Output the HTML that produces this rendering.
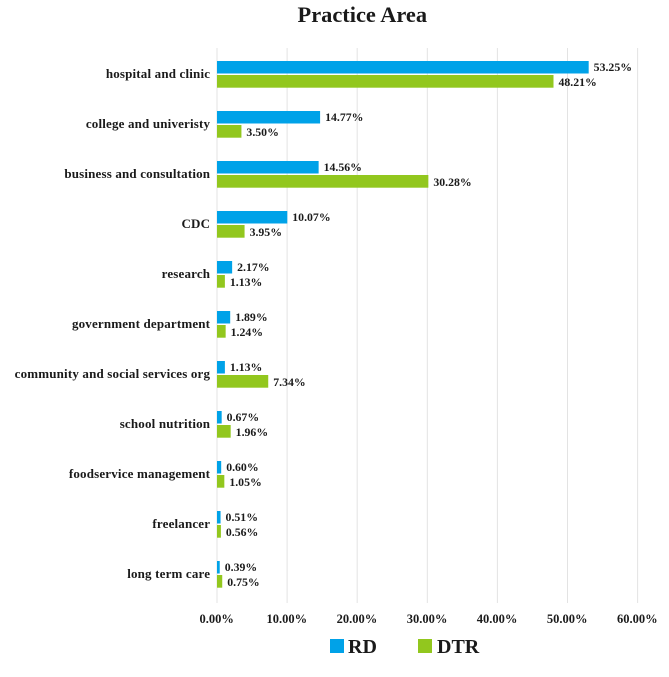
<!DOCTYPE html>
<html>
<head>
<meta charset="utf-8">
<style>
html,body{margin:0;padding:0;background:#fff}
svg{display:block}
text{font-family:"Liberation Serif",serif;font-weight:bold;fill:#1a1a1a}
</style>
</head>
<body>
<svg id="chart" width="669" height="677" viewBox="0 0 669 677" xmlns="http://www.w3.org/2000/svg"></svg>
<script>
const categories = ["hospital and clinic","college and univeristy","business and consultation","CDC","research","government department","community and social services org","school nutrition","foodservice management","freelancer","long term care"];
const rdValues = [53.25,14.77,14.56,10.07,2.17,1.89,1.13,0.67,0.60,0.51,0.39];
const dtrValues = [48.21,3.50,30.28,3.95,1.13,1.24,7.34,1.96,1.05,0.56,0.75];
const xTicks = [0,10,20,30,40,50,60];
const chartTitle = "Practice Area";
const rdName = "RD";
const dtrName = "DTR";

const svg = document.getElementById('chart');
const NS = 'http://www.w3.org/2000/svg';
const RD_COLOR = '#00a2e8';
const DTR_COLOR = '#92c71e';
const xScale = v => 217 + v * 7.01;
const barEnd = v => 217 + v * 6.98;
const yScale = i => 74 + i * 50;

function make(tag, attrs, txt) {
  const el = document.createElementNS(NS, tag);
  for (const k in attrs) el.setAttribute(k, attrs[k]);
  if (txt !== undefined) el.textContent = txt;
  svg.appendChild(el);
  return el;
}

const title = make('text', {x: 362.3, y: 22, 'text-anchor': 'middle', 'font-size': 22.4}, chartTitle);



xTicks.forEach(t => {
  const grid = make('line', {x1: xScale(t), x2: xScale(t), y1: 48, y2: 603, stroke: '#e3e3e3', 'stroke-width': 1});
  
  
  const tick = make('text', {x: xScale(t) - 0.3, y: 623, 'text-anchor': 'middle', 'font-size': 12.5}, t.toFixed(2) + '%');
  
  
});

categories.forEach((c, i) => {
  const cy = yScale(i);
  const label = make('text', {x: 210.2, y: cy + 4, 'text-anchor': 'end', 'font-size': 13, 'letter-spacing': 0.17}, c);
  
  

  const rdBar = make('rect', {x: 217, y: cy - 13, width: barEnd(rdValues[i]) - 217, height: 12.5, fill: RD_COLOR});
  
  
  const rdLabel = make('text', {x: barEnd(rdValues[i]) + 5, y: cy - 3, 'font-size': 11.8}, rdValues[i].toFixed(2) + '%');
  
  

  const dtrBar = make('rect', {x: 217, y: cy + 1, width: barEnd(dtrValues[i]) - 217, height: 12.7, fill: DTR_COLOR});
  
  
  const dtrLabel = make('text', {x: barEnd(dtrValues[i]) + 5, y: cy + 12, 'font-size': 11.8}, dtrValues[i].toFixed(2) + '%');
  
  
});

const rdSwatch = make('rect', {x: 330, y: 639, width: 14, height: 14, fill: RD_COLOR});


const rdText = make('text', {x: 348, y: 653, 'font-size': 20}, rdName);


const dtrSwatch = make('rect', {x: 418, y: 639, width: 14, height: 14, fill: DTR_COLOR});


const dtrText = make('text', {x: 437, y: 653, 'font-size': 20}, dtrName);


</script>
</body>
</html>
